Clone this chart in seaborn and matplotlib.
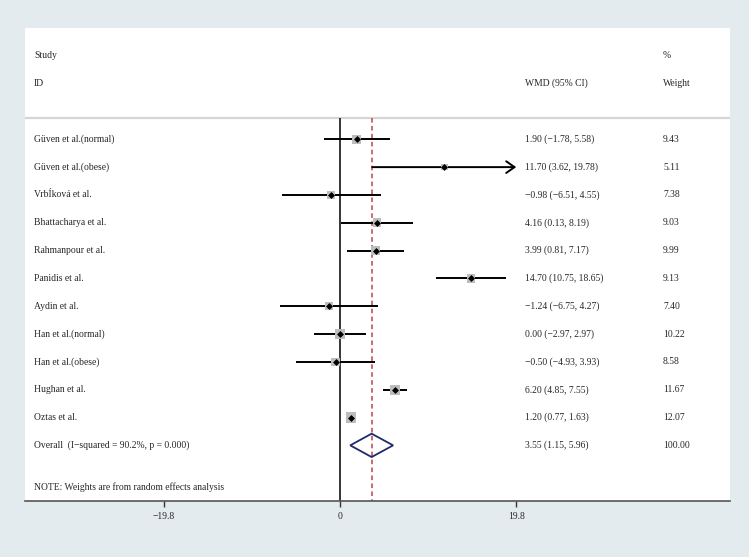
"""
Forest plot (WMD, random effects) redrawn with seaborn.
"""

import numpy as np
import pandas as pd
import matplotlib
matplotlib.use("Agg")
import matplotlib.pyplot as plt
from matplotlib.patches import Polygon
import seaborn as sns

# Data
studies = [
    "Güven et al.(normal)", "Güven et al.(obese)", "VrbÍková et al.",
    "Bhattacharya et al.", "Rahmanpour et al.", "Panidis et al.",
    "Aydin et al.", "Han et al.(normal)", "Han et al.(obese)",
    "Hughan et al.", "Oztas et al.",
]
wmd = [1.90, 11.70, -0.98, 4.16, 3.99, 14.70, -1.24, 0.00, -0.50, 6.20, 1.20]
ci_low = [-1.78, 3.62, -6.51, 0.13, 0.81, 10.75, -6.75, -2.97, -4.93, 4.85, 0.77]
ci_high = [5.58, 19.78, 4.55, 8.19, 7.17, 18.65, 4.27, 2.97, 3.93, 7.55, 1.63]
weights = [9.43, 5.11, 7.38, 9.03, 9.99, 9.13, 7.40, 10.22, 8.58, 11.67, 12.07]
arrow_studies = ["Güven et al.(obese)"]

overall_label = "Overall  (I\u2212squared = 90.2%, p = 0.000)"
overall_est, overall_low, overall_high = 3.55, 1.15, 5.96
overall_weight = 100.00

x_ticks = [-19.8, 0, 19.8]
x_ticklabels = ["\u221219.8", "0", "19.8"]
note = "NOTE: Weights are from random effects analysis"

# Style
sns.set_theme(style="white")
plt.rcParams["font.family"] = ["Liberation Serif", "DejaVu Serif"]
FS = 6.9
BG = "#e4ebef"


def fmt(v):
    return f"{v:.2f}".replace("-", "\u2212")


df = pd.DataFrame({
    "study": studies, "wmd": wmd, "low": ci_low, "high": ci_high,
    "weight": weights,
})
df["row"] = np.arange(len(df))

fig = plt.figure(figsize=(7.49, 5.57), dpi=100, facecolor=BG)
ax = fig.add_axes([25 / 749, 56 / 557, 705 / 749, 473 / 557])
ax.set_facecolor("white")

ax.set_xlim(-35.35, 43.77)
ax.set_ylim(13.0, -4.0)

# Reference lines
ax.vlines(0, -0.75, 13.0, color="black", lw=1.1, zorder=2)
ax.vlines(overall_est, -0.75, 13.0, color="#b8434f", lw=1.1,
          linestyles=(0, (3.0, 2.2)), zorder=2)
ax.axhline(-0.75, color="#d6d6d6", lw=1.6, zorder=1)

# Confidence intervals
for _, r in df.iterrows():
    if r["study"] in arrow_studies:
        ax.annotate("", xy=(r["high"], r["row"]), xytext=(r["low"], r["row"]),
                    arrowprops=dict(arrowstyle="->,head_length=0.6,head_width=0.42",
                                    color="black", lw=1.4, mutation_scale=10,
                                    shrinkA=0, shrinkB=0), zorder=3)
    else:
        ax.hlines(r["row"], r["low"], r["high"], color="black", lw=1.4, zorder=3)

# Weighted squares + point estimates
wmin, wmax = min(weights), max(weights)
sns.scatterplot(data=df, x="wmd", y="row", size="weight",
                sizes=(4.5 * wmin, 4.5 * wmax), size_norm=(wmin, wmax),
                marker="s", color="#bdbdbd", edgecolor="none", linewidth=0,
                legend=False, ax=ax, zorder=4)
sns.scatterplot(data=df, x="wmd", y="row", marker="D", color="black",
                s=9, edgecolor="black", linewidth=0.5, legend=False, ax=ax, zorder=5)

# Overall diamond
orow = len(df)
diamond = Polygon([[overall_low, orow], [overall_est, orow - 0.42],
                   [overall_high, orow], [overall_est, orow + 0.42]],
                  closed=True, fill=False, edgecolor="#1f2a6b", lw=1.3, zorder=5)
ax.add_patch(diamond)

# Text columns
tr = ax.get_yaxis_transform()
x_lab, x_ci, x_w = 0.0128, 0.709, 0.905
ax.text(x_lab, -3, "Study", transform=tr, fontsize=FS, va="center")
ax.text(x_lab, -2, "ID", transform=tr, fontsize=FS, va="center")
ax.text(x_ci, -2, "WMD (95% CI)", transform=tr, fontsize=FS, va="center")
ax.text(x_w, -3, "%", transform=tr, fontsize=FS, va="center")
ax.text(x_w, -2, "Weight", transform=tr, fontsize=FS, va="center")

for _, r in df.iterrows():
    ax.text(x_lab, r["row"], r["study"], transform=tr, fontsize=FS, va="center")
    ax.text(x_ci, r["row"], f"{fmt(r['wmd'])} ({fmt(r['low'])}, {fmt(r['high'])})",
            transform=tr, fontsize=FS, va="center")
    ax.text(x_w, r["row"], f"{r['weight']:.2f}", transform=tr, fontsize=FS, va="center")

ax.text(x_lab, orow, overall_label, transform=tr, fontsize=FS, va="center")
ax.text(x_ci, orow, f"{fmt(overall_est)} ({fmt(overall_low)}, {fmt(overall_high)})",
        transform=tr, fontsize=FS, va="center")
ax.text(x_w, orow, f"{overall_weight:.2f}", transform=tr, fontsize=FS, va="center")
ax.text(x_lab, 12.5, note, transform=tr, fontsize=FS, va="center")

# Axes
sns.despine(ax=ax, left=True, top=True, right=True)
ax.spines["bottom"].set_color("#555555")
ax.spines["bottom"].set_linewidth(1.2)
ax.set_xticks(x_ticks)
ax.set_xticklabels(x_ticklabels, fontsize=FS)
ax.tick_params(axis="x", direction="out", length=4, width=1.0, color="#333333",
               pad=4, bottom=True)
ax.set_yticks([])
ax.set_xlabel("")
ax.set_ylabel("")

fig.savefig("out.png", dpi=100, facecolor=BG)
